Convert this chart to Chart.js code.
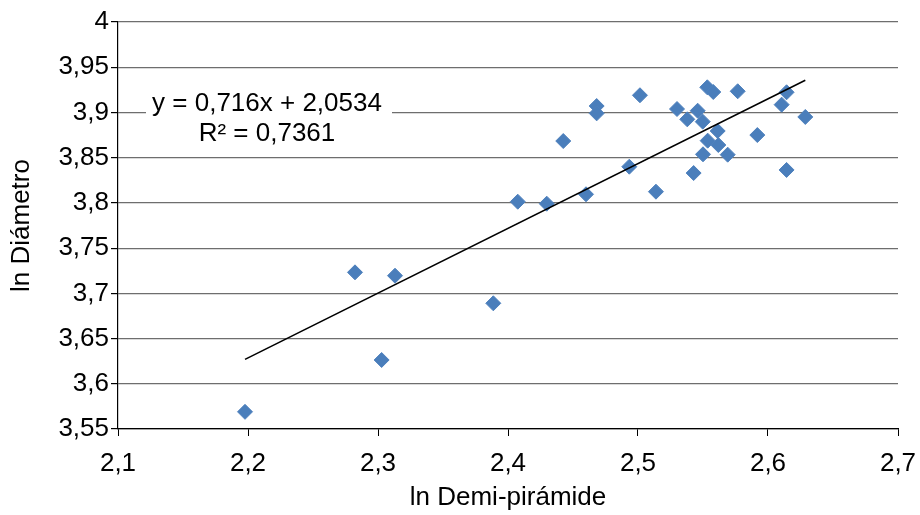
<!DOCTYPE html>
<html>
<head>
<meta charset="utf-8">
<script src="https://cdn.jsdelivr.net/npm/chart.js@4/dist/chart.umd.min.js"></script>
<style>
  html, body { margin: 0; padding: 0; background: #fff; }
  canvas { display: block; }
</style>
</head>
<body>
<canvas id="grafica" width="920" height="515"></canvas>
<script>
// ln Demi-pirámide (x) y ln Diámetro (y) de cada muestra
const lnDemi = [2.1977, 2.2823, 2.3028, 2.3131, 2.3887, 2.4075, 2.4298, 2.4425,
  2.4600, 2.4682, 2.4682, 2.4933, 2.5015, 2.5138, 2.5300, 2.5379, 2.5428, 2.5459,
  2.5498, 2.5500, 2.5533, 2.5536, 2.5579, 2.5613, 2.5618, 2.5690, 2.5767, 2.5918,
  2.6105, 2.6143, 2.6143, 2.6287];
const lnDiam = [3.569, 3.7232, 3.6263, 3.7195, 3.689, 3.8013, 3.7991, 3.8684,
  3.8095, 3.9071, 3.899, 3.840, 3.919, 3.8124, 3.9038, 3.8924, 3.833, 3.9019,
  3.8898, 3.8537, 3.9278, 3.8688, 3.9226, 3.8795, 3.864, 3.8533, 3.9234, 3.875,
  3.9086, 3.9223, 3.8364, 3.895];

// recta de regresión lineal
const pendiente = 0.716;
const intercepto = 2.0534;
const r2 = 0.7361;

// ejes
const ejeX = { min: 2.1, max: 2.7, paso: 0.1 };
const ejeY = { min: 3.55, max: 4, paso: 0.05 };

const puntos = lnDemi.map((x, i) => ({ x: x, y: lnDiam[i] }));
const xMin = Math.min(...lnDemi);
const xMax = Math.max(...lnDemi);
const tendencia = [xMin, xMax].map(x => ({ x: x, y: pendiente * x + intercepto }));

const fmt = n => String(n).replace('.', ',');
const coma = v => fmt(parseFloat(v.toFixed(2)));

const fuente = { family: '"Liberation Sans", Arial, sans-serif', size: 26 };

// cuadro con la ecuación sobre fondo blanco
const ecuacion = {
  id: 'ecuacion',
  beforeDatasetsDraw(chart) {
    const ctx = chart.ctx;
    ctx.save();
    ctx.fillStyle = '#fff';
    ctx.fillRect(146, 86, 246, 62);
    ctx.fillStyle = '#000';
    ctx.font = '26px "Liberation Sans", Arial, sans-serif';
    ctx.textAlign = 'center';
    ctx.textBaseline = 'middle';
    ctx.fillText('y = ' + fmt(pendiente) + 'x + ' + fmt(intercepto), 267, 104);
    ctx.fillText('R² = ' + fmt(r2), 267, 134);
    ctx.restore();
  }
};

new Chart(document.getElementById('grafica'), {
  type: 'scatter',
  data: {
    datasets: [{
      label: 'Tendencia',
      data: tendencia,
      showLine: true,
      borderColor: '#000',
      borderWidth: 1.6,
      pointRadius: 0,
      order: 0
    }, {
      label: 'ln Diámetro',
      data: puntos,
      pointStyle: 'rectRot',
      pointRadius: 7.5,
      pointHoverRadius: 7.5,
      backgroundColor: '#4a7ebb',
      borderColor: '#4f81bd',
      borderWidth: 1,
      order: 1
    }]
  },
  options: {
    responsive: false,
    animation: false,
    layout: { padding: { left: 0, top: 22, right: 22, bottom: 0 } },
    plugins: {
      legend: { display: false },
      tooltip: { enabled: false }
    },
    scales: {
      x: {
        type: 'linear',
        min: ejeX.min,
        max: ejeX.max,
        afterFit(s) { s.height = 86; },
        ticks: {
          stepSize: ejeX.paso,
          color: '#000',
          font: { ...fuente, lineHeight: 2.1 },
          padding: 1,
          maxRotation: 0,
          callback: v => coma(v)
        },
        grid: {
          drawOnChartArea: false,
          drawTicks: true,
          tickLength: 7,
          tickColor: '#000'
        },
        border: { color: '#000', width: 1.2 },
        title: {
          display: true,
          text: 'ln Demi-pirámide',
          color: '#000',
          font: { ...fuente, lineHeight: 1 },
          padding: { top: 0, bottom: 4 }
        }
      },
      y: {
        type: 'linear',
        min: ejeY.min,
        max: ejeY.max,
        afterFit(s) { s.width = 118; },
        ticks: {
          stepSize: ejeY.paso,
          color: '#000',
          font: fuente,
          padding: 2,
          callback: v => coma(v)
        },
        grid: {
          color: '#6e6e6e',
          lineWidth: 1.2,
          borderDash: [2, 2.4],
          drawTicks: true,
          tickLength: 7,
          tickColor: '#000',
          tickBorderDash: []
        },
        border: { color: '#000', width: 1.2 },
        title: {
          display: true,
          text: 'ln Diámetro',
          color: '#000',
          font: { ...fuente, lineHeight: 1 },
          padding: { top: 9, bottom: 0 }
        }
      }
    }
  },
  plugins: [ecuacion]
});
</script>
</body>
</html>
